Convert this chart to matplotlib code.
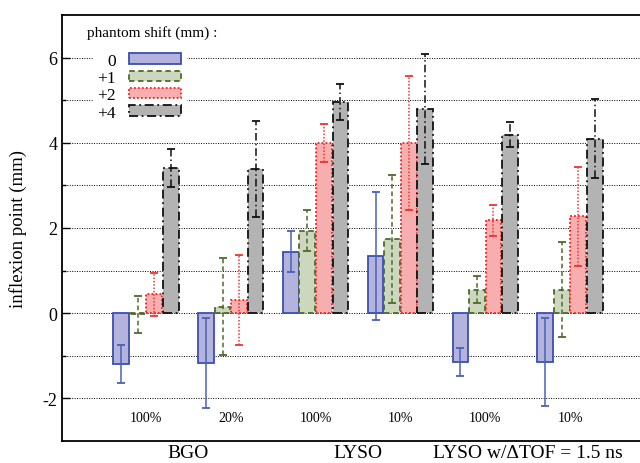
import matplotlib
matplotlib.use("Agg")
import matplotlib.pyplot as plt
import numpy as np

plt.rcParams['font.family'] = ['Liberation Serif', 'DejaVu Serif']

sub_labels = ["100%", "20%", "100%", "10%", "100%", "10%"]
group_labels = ["BGO", "LYSO", "LYSO w/\u0394TOF = 1.5 ns"]
series_names = ["0", "+1", "+2", "+4"]
legend_title = "phantom shift (mm) :"

shift0 = [-1.20, -1.17, 1.44, 1.34, -1.14, -1.14]
shift0_err = [0.45, 1.05, 0.48, 1.51, 0.33, 1.03]
shift1 = [-0.03, 0.15, 1.94, 1.74, 0.55, 0.55]
shift1_err = [0.43, 1.14, 0.48, 1.51, 0.32, 1.11]
shift2 = [0.44, 0.31, 3.99, 4.00, 2.18, 2.27]
shift2_err = [0.50, 1.05, 0.45, 1.57, 0.37, 1.16]
shift4 = [3.41, 3.38, 4.96, 4.79, 4.19, 4.10]
shift4_err = [0.45, 1.13, 0.42, 1.29, 0.29, 0.93]

values = [shift0, shift1, shift2, shift4]
errors = [shift0_err, shift1_err, shift2_err, shift4_err]
faces = ["#b3b3dd", "#cdd7bd", "#f7aeae", "#b3b3b3"]
edges = ["#3a4fae", "#4d6a2a", "#ee2222", "#111111"]
err_colors = ["#4a60b8", "#4d6a2a", "#ee3333", "#111111"]
styles = ["-", (0, (3, 2)), (0, (1, 1.2)), (0, (5, 2, 1, 2))]

fig = plt.figure(figsize=(6.4, 4.64), dpi=100)
ax = fig.add_axes([62/640, 22/464, 1 - 62/640, (442-16)/464])

x = np.arange(len(sub_labels))
pitch = 0.195
width = 0.185
handles = []
for i in range(4):
    xs = x + (i - 1.5) * pitch
    b = ax.bar(xs, values[i], width, color=faces[i], edgecolor=edges[i],
               linewidth=1.3, linestyle=styles[i], zorder=3, label=series_names[i])
    handles.append(b)
    eb = ax.errorbar(xs, values[i], yerr=errors[i], fmt='none', ecolor=err_colors[i],
                     elinewidth=1.1, capsize=3, capthick=1.3, zorder=4)
    for lc in eb[2]:
        lc.set_linestyle(styles[i])

ax.set_xlim(-0.99, 5.825)
ax.set_ylim(-3, 7)
ax.set_yticks([-2, 0, 2, 4, 6])
ax.set_yticks([-1, 1, 3, 5], minor=True)
ax.set_xticks([])
ax.tick_params(axis='y', which='major', direction='in', length=6, labelsize=13, width=1)
ax.tick_params(axis='y', which='minor', direction='in', length=3, width=1)
ax.set_yticklabels(["-2", "0", "2", "4", "6"])
for yv in range(-2, 7):
    ax.axhline(yv, color='black', linestyle=(0, (1, 1.5)), linewidth=0.7, zorder=1)
ax.spines['right'].set_visible(False)
for s in ['left', 'top', 'bottom']:
    ax.spines[s].set_linewidth(1.3)

ax.set_ylabel("inflexion point (mm)", fontsize=13.5, labelpad=11)

for xi, lab in zip(x, sub_labels):
    ax.text(xi, -2.44, lab, ha='center', va='center', fontsize=10)
for gi, lab in enumerate(group_labels):
    xc = 2 * gi + 0.5
    ax.text(xc, -3.37, lab, ha='center', va='baseline', fontsize=14, clip_on=False)

ax.text(0.043, 0.960, legend_title, transform=ax.transAxes, ha='left', va='center',
        fontsize=11, zorder=6)
leg = ax.legend(handles=handles, labels=series_names, loc='upper left',
                bbox_to_anchor=(0.054, 0.922), fontsize=12.5, markerfirst=False,
                frameon=True, handlelength=3.0, handleheight=0.55, labelspacing=0.08,
                handletextpad=0.75, borderpad=0.25, borderaxespad=0.0)
leg.get_frame().set_edgecolor('white')
leg.get_frame().set_facecolor('white')
leg.get_frame().set_alpha(1)
leg.set_zorder(5)
for t in leg.get_texts():
    t.set_ha('right')

fig.savefig("out.png", dpi=100)
